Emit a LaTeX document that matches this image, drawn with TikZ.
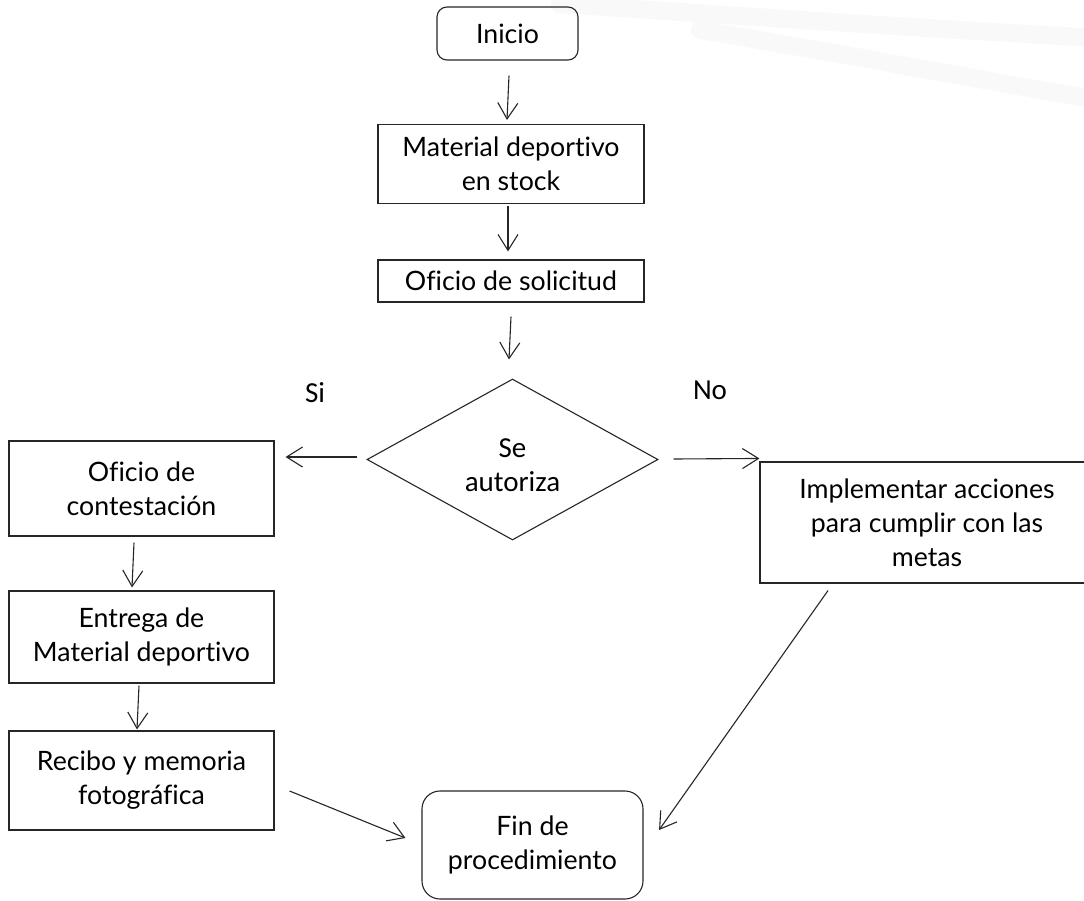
\documentclass[tikz,border=0pt]{standalone}
\usepackage{fontspec}
\setmainfont{Lato}[Ligatures=NoCommon]
\newfontfamily\calib{Carlito}
\usetikzlibrary{shapes.geometric,arrows.meta,calc}
\definecolor{edge}{HTML}{262626}
\definecolor{swoosh}{HTML}{F9F9F9}
\tikzset{
  box/.style={draw=edge, line width=1.1pt, inner sep=0pt, align=center, font=\fontsize{26.7}{34}\selectfont},
  rbox/.style={box, rounded corners=10pt},
  dec/.style={draw=edge, line width=1.1pt, shape=diamond, inner sep=0pt},
  dectext/.style={font=\calib\fontsize{29}{34}\selectfont, align=center, inner sep=0pt, yshift=-6pt},
  lbl/.style={font=\calib\fontsize{29}{30}\selectfont, inner sep=0pt},
  arr/.style={draw=edge, line width=1.1pt, -{Straight Barb[length=16pt,width=20pt,line width=1.1pt]}},
  band/.style={draw=swoosh, line width=18pt, line cap=round}
}
\begin{document}
\begin{tikzpicture}[x=1pt,y=-1pt]
\useasboundingbox (0,0) rectangle (1084,900);
\clip (0,0) rectangle (1084,900);
\fill[white] (0,0) rectangle (1084,900);
% faint background swooshes
\draw[band] (560,4) .. controls (800,20) and (950,30) .. (1100,38);
\draw[band] (700,30) .. controls (850,55) and (980,80) .. (1100,100);

\node[rbox, minimum width=141pt, minimum height=53pt] (ini) at (507.5,33.5) {Inicio};
\node[box, minimum width=266pt, minimum height=79pt] (mat) at (511,164) {Material deportivo\\en stock};
\node[box, minimum width=266pt, minimum height=42pt] (sol) at (511,281) {Oficio de solicitud};
\node[dec, minimum width=291pt, minimum height=161pt, label={[dectext]center:Se\\autoriza}] (aut) at (512.5,459.5) {};
\node[lbl] (si) at (315,393) {Si};
\node[lbl] (no) at (710,390) {No};
\node[box, minimum width=265pt, minimum height=95pt] (con) at (141.5,488.5) {Oficio de\\contestaci\'on};
\node[box, minimum width=265pt, minimum height=92pt] (ent) at (141.5,637) {Entrega de\\Material deportivo};
\node[box, minimum width=265pt, minimum height=99pt] (rec) at (141.5,780.5) {Recibo y memoria\\fotogr\'afica};
\node[box, minimum width=334pt, minimum height=121pt] (imp) at (927,522.5) {Implementar acciones\\para cumplir con las\\metas};
\node[rbox, rounded corners=18pt, minimum width=221pt, minimum height=108pt] (fin) at (532.5,845) {Fin de\\procedimiento};

\draw[arr] ($(ini.south)+(1.5,15)$) -- ($(mat.north)+(-4,-4)$);
\draw[arr] ($(mat.south)+(-3,2)$) -- ($(sol.north)+(-3,-8)$);
\draw[arr] ($(sol.south)+(0,14)$) -- ($(aut.north)+(-3.5,-19)$);
\draw[arr] ($(aut.west)+(-9,-2.5)$) -- ($(con.east)+(11,-31.5)$);
\draw[arr] ($(aut.east)+(15,-0.5)$) -- ($(imp.north west)+(0,-3)$);
\draw[arr] ($(con.south)+(-7.5,6)$) -- ($(ent.north)+(-9.5,-3)$);
\draw[arr] ($(ent.south)+(-2.5,2)$) -- ($(rec.north)+(-4.5,-1)$);
\draw[arr] ($(rec.east)+(15,10.5)$) -- ($(fin.west)+(-16,-7)$);
\draw[arr] ($(imp.south)+(-99,7)$) -- ($(fin.east)+(15.5,-15)$);
\end{tikzpicture}
\end{document}
